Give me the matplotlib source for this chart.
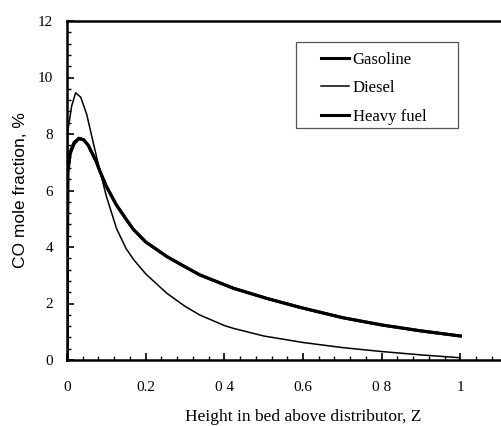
import matplotlib.pyplot as plt
from matplotlib.patches import Rectangle
from matplotlib.ticker import MultipleLocator, FixedLocator, FixedFormatter

# CO mole fraction along bed height
z_diesel = [0, 0.002, 0.012, 0.022, 0.035, 0.05, 0.065, 0.08, 0.1, 0.126, 0.15, 0.169, 0.2, 0.254,
            0.3, 0.338, 0.4, 0.423, 0.5, 0.6, 0.7, 0.8, 0.9, 1.0]
co_diesel = [0, 8.1, 9.0, 9.46, 9.3, 8.7, 7.8, 6.9, 5.8, 4.65, 3.95, 3.56, 3.05, 2.36,
             1.9, 1.59, 1.22, 1.12, 0.85, 0.62, 0.44, 0.3, 0.18, 0.08]

z_heavy = [0, 0.002, 0.008, 0.018, 0.03, 0.042, 0.054, 0.075, 0.084, 0.1, 0.125, 0.152, 0.169, 0.2,
           0.254, 0.3, 0.338, 0.423, 0.508, 0.593, 0.7, 0.8, 0.9, 1.0]
co_heavy = [0, 6.7, 7.37, 7.7, 7.85, 7.8, 7.6, 7.0, 6.67, 6.15, 5.5, 4.95, 4.62, 4.18,
            3.66, 3.3, 3.01, 2.54, 2.18, 1.86, 1.5, 1.24, 1.03, 0.85]

# gasoline lies on top of the heavy fuel curve
z_gasoline = z_heavy
co_gasoline = [0, 6.6, 7.3, 7.65, 7.83, 7.8, 7.6, 7.0, 6.67, 6.15, 5.5, 4.95, 4.62, 4.18,
               3.66, 3.3, 3.01, 2.54, 2.18, 1.86, 1.5, 1.24, 1.03, 0.85]

x_ticks = [0, 0.2, 0.4, 0.6, 0.8, 1.0]
x_labels = ["0", "0.2", "0 4", "0.6", "0 8", "1"]

plt.rcParams["font.family"] = ["Liberation Serif", "DejaVu Serif"]

fig = plt.figure(figsize=(5.02, 4.26), dpi=100)
ax = fig.add_axes([67 / 502, 66 / 426, 472 / 502, 339 / 426])

ax.plot(z_gasoline, co_gasoline, color="black", lw=2.2, label="Gasoline")
ax.plot(z_diesel, co_diesel, color="black", lw=1.1, label="Diesel")
ax.plot(z_heavy, co_heavy, color="black", lw=2.2, label="Heavy fuel")

ax.set_xlim(0, 1.2)
ax.set_ylim(0, 12)
ax.xaxis.set_major_locator(FixedLocator(x_ticks))
ax.xaxis.set_major_formatter(FixedFormatter(x_labels))
ax.xaxis.set_minor_locator(MultipleLocator(0.04))
ax.yaxis.set_major_locator(MultipleLocator(2))
ax.yaxis.set_minor_locator(MultipleLocator(0.4))
ax.tick_params(which="both", direction="in", top=False, right=False, labelsize=11)
ax.tick_params(which="major", length=5, width=1.2)
ax.tick_params(which="minor", length=3, width=1.0)
ax.tick_params(axis="x", which="major", pad=15)
ax.tick_params(axis="y", which="major", pad=10)
for side in ["left", "bottom", "top", "right"]:
    ax.spines[side].set_linewidth(1.8)

ax.set_xlabel("Height in bed above distributor, Z", fontsize=12.5, labelpad=11)
ax.set_ylabel("CO mole fraction, %", fontsize=12.5, family=["Liberation Sans", "DejaVu Sans"], labelpad=7)

# legend box drawn separately to get the wide padding of the original
ax.add_patch(Rectangle((0.485, 0.684), 0.343, 0.254, transform=ax.transAxes,
                       fill=False, edgecolor="#555555", lw=0.9, zorder=4))
leg = ax.legend(loc="upper left", bbox_to_anchor=(0.538, 0.91), frameon=False,
                fontsize=12, handlelength=1.7, handletextpad=0.2, borderpad=0,
                borderaxespad=0, labelspacing=0.75)

fig.savefig("out.png", dpi=100)
